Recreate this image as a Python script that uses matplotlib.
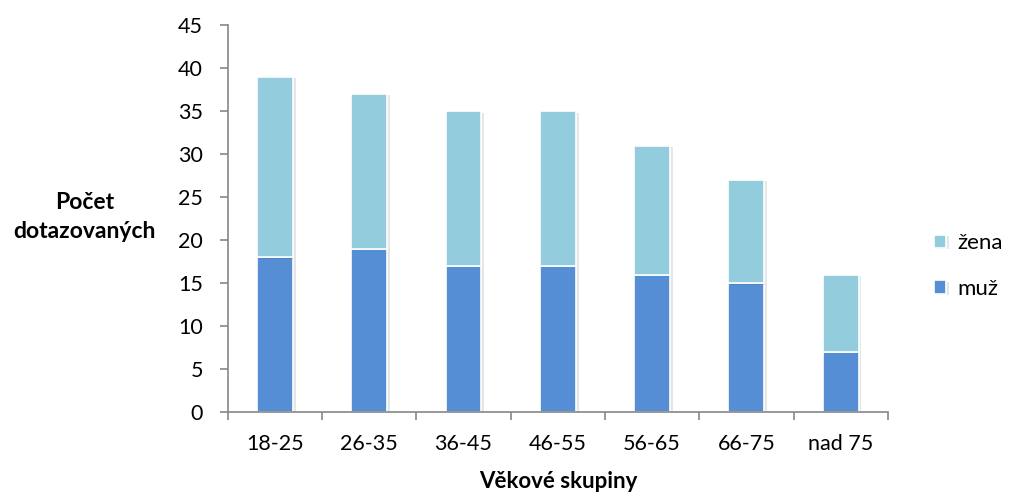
import matplotlib.pyplot as plt
import matplotlib.patheffects as pe
import numpy as np

categories = ['18-25', '26-35', '36-45', '46-55', '56-65', '66-75', 'nad 75']
muz = [18, 19, 17, 17, 16, 15, 7]
zena = [21, 18, 18, 18, 15, 12, 9]

plt.rcParams['font.family'] = ['Lato', 'DejaVu Sans']

fig = plt.figure(figsize=(10.17, 4.99), dpi=100)
ax = fig.add_axes([0.224, 0.1743, 0.649, 0.775])

x = np.arange(len(categories))
shadow = [pe.SimplePatchShadow(offset=(2, -1), alpha=0.12), pe.Normal()]
b1 = ax.bar(x, muz, width=0.38, color='#558ED5', edgecolor='white', linewidth=1.2,
            label='muž', path_effects=shadow)
b2 = ax.bar(x, zena, width=0.38, bottom=muz, color='#93CDDD', edgecolor='white',
            linewidth=1.2, label='žena', path_effects=shadow)

fs = 15.5
ax.set_xlim(-0.5, len(categories) - 0.5)
ax.set_ylim(0, 45)
ax.set_yticks(range(0, 46, 5))
ax.set_xticks(x)
ax.set_xticklabels(categories)
ax.set_xticks(np.arange(-0.5, len(categories)), minor=True)
ax.tick_params(axis='x', which='major', length=0, pad=16, labelsize=fs)
ax.tick_params(axis='x', which='minor', length=6, width=1.2, color='#868686', direction='out')
ax.tick_params(axis='y', length=6, width=1.2, color='#868686', pad=12, labelsize=fs)

for s in ['top', 'right']:
    ax.spines[s].set_visible(False)
for s in ['left', 'bottom']:
    ax.spines[s].set_color('#868686')
    ax.spines[s].set_linewidth(1.2)

ax.set_xlabel('Věkové skupiny', fontsize=16, fontweight='bold', labelpad=12)
fig.text(0.083, 0.565, 'Počet\ndotazovaných', fontsize=16.5, fontweight='bold',
         ha='center', va='center', linespacing=1.45)

handles = [b2, b1]
leg = fig.legend(handles, ['žena', 'muž'], loc='center left', bbox_to_anchor=(0.918, 0.467),
                 frameon=False, fontsize=16, handlelength=0.55, handleheight=0.55,
                 handletextpad=0.5, labelspacing=1.15, borderpad=0, borderaxespad=0)

fig.savefig('out.png', dpi=100)
